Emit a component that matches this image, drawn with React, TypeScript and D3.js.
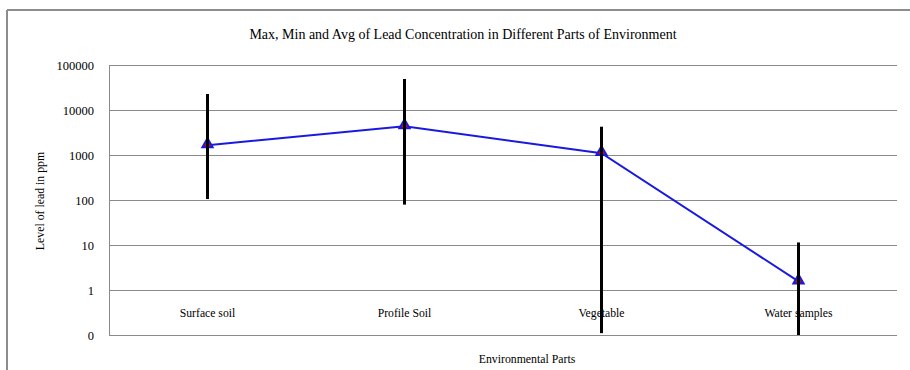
import React from "react";
import * as d3 from "d3";

const categories = ["Surface soil", "Profile Soil", "Vegetable", "Water samples"];
const avgValues = [1650, 4350, 1100, 1.55];
const maxValues = [22700, 48800, 4250, 11.4];
const minValues = [105, 79, 0.11, 0.1];
const yTicks = [0.1, 1, 10, 100, 1000, 10000, 100000];
const yTickLabels = ["0", "1", "10", "100", "1000", "10000", "100000"];

const W = 910;
const H = 370;
const plot = { left: 109, right: 897, top: 65, bottom: 335 };
const FONT = "'Liberation Serif', 'Times New Roman', serif";

export default function App() {
  const x = d3
    .scaleBand<string>()
    .domain(categories)
    .range([plot.left, plot.right]);
  const y = d3.scaleLog().domain([0.1, 100000]).range([plot.bottom, plot.top]).clamp(true);
  const cx = (c: string) => (x(c) as number) + x.bandwidth() / 2;

  const line = d3
    .line<number>()
    .x((_, i) => cx(categories[i]))
    .y((d) => y(d));

  const tri = d3.symbol().type(d3.symbolTriangle).size(45)();

  return (
    <svg width={W} height={H} style={{ position: "absolute", left: 0, top: 0, background: "#fff" }}>
      <rect x={0} y={0} width={W} height={H} fill="#fff" />
      {/* outer chart border (left and top only visible) */}
      <line x1={7} y1={10} x2={W} y2={10} stroke="#8c8c8c" strokeWidth={2} />
      <line x1={7} y1={10} x2={7} y2={H} stroke="#8c8c8c" strokeWidth={2} />

      <text
        x={463}
        y={39}
        textAnchor="middle"
        fontFamily={FONT}
        fontSize={14}
        fill="#000"
      >
        Max, Min and Avg of Lead Concentration in Different Parts of Environment
      </text>

      {/* gridlines */}
      {yTicks.map((t, i) => (
        <line
          key={"g" + i}
          x1={plot.left}
          x2={plot.right}
          y1={Math.round(y(t)) + 0.5}
          y2={Math.round(y(t)) + 0.5}
          stroke="#8a8a8a"
          strokeWidth={1}
        />
      ))}
      <line x1={plot.left + 0.5} x2={plot.left + 0.5} y1={plot.top} y2={plot.bottom + 0.5} stroke="#8a8a8a" strokeWidth={1} />

      {/* y tick labels */}
      {yTicks.map((t, i) => (
        <text
          key={"t" + i}
          x={94}
          y={y(t) + 4.5}
          textAnchor="end"
          fontFamily={FONT}
          fontSize={12.5}
          fill="#000"
        >
          {yTickLabels[i]}
        </text>
      ))}

      {/* category labels */}
      {categories.map((c) => (
        <text key={c} x={cx(c)} y={317} textAnchor="middle" fontFamily={FONT} fontSize={11.7} fill="#000">
          {c}
        </text>
      ))}

      {/* axis titles */}
      <text x={527} y={363} textAnchor="middle" fontFamily={FONT} fontSize={11.8} fill="#000">
        Environmental Parts
      </text>
      <text
        transform={`translate(44,201) rotate(-90)`}
        textAnchor="middle"
        fontFamily={FONT}
        fontSize={11.8}
        fill="#000"
      >
        Level of lead in ppm
      </text>

      {/* average line */}
      <path d={line(avgValues) || ""} fill="none" stroke="#1a1adf" strokeWidth={2} />

      {/* markers */}
      {avgValues.map((v, i) => (
        <path
          key={"m" + i}
          d={tri || ""}
          transform={`translate(${cx(categories[i])},${y(v) - 1})`}
          fill="#e00000"
          stroke="#1a1adf"
          strokeWidth={2}
        />
      ))}

      {/* min-max bars */}
      {categories.map((c, i) => (
        <line
          key={"e" + i}
          x1={cx(c)}
          x2={cx(c)}
          y1={y(maxValues[i])}
          y2={y(minValues[i])}
          stroke="#000"
          strokeWidth={3}
        />
      ))}
    </svg>
  );
}
